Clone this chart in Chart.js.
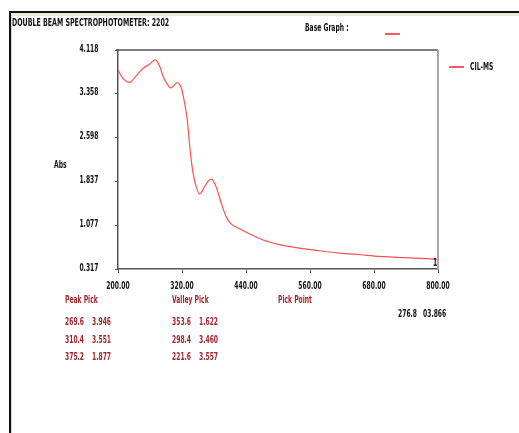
<!DOCTYPE html>
<html>
<head>
<meta charset="utf-8">
<script src="https://cdn.jsdelivr.net/npm/chart.js@4"></script>
<style>
body { margin: 0; background: #fff; }
#wrap { position: relative; width: 519px; height: 433px; overflow: hidden; font-family: 'Liberation Sans Narrow', 'DejaVu Sans Condensed', sans-serif; font-weight: bold; font-size: 10px; }
#frame { position: absolute; left: 9px; top: 11px; width: 520px; height: 430px; border-top: 2px solid #111; border-left: 2px solid #111; }
#frame div { position: absolute; left: 0; top: 0; right: 0; bottom: 0; border-top: 3px solid #ece9d8; border-left: 1px solid #d8d6cc; }
canvas { position: absolute; left: 0; top: 0; }
.t { position: absolute; line-height: 12px; white-space: nowrap; color: #111; }
.r { color: #a0282e; }
.ln { position: absolute; height: 1.5px; background: #ff5a5a; }
</style>
</head>
<body>
<div id="wrap">
<div id="frame"><div></div></div>
<canvas id="myChart" width="519" height="433"></canvas>
<div class="ln" style="left:385px;top:33px;width:15px"></div>
<div class="ln" style="left:449px;top:66px;width:15px"></div>
<div id="texts"></div>
</div>
<script>
// spectrum (nm, Abs)
let wavelengths = [200, 209, 221.6, 234, 247, 259, 269.6, 278, 284, 292, 298.4, 306, 310.4, 319, 325, 330, 334, 339, 345, 353.6, 362, 370, 375.2, 384, 394, 403, 412, 428, 446, 472, 503, 540, 578, 616, 654, 691, 728, 766, 800];
let absorbance = [3.77, 3.63, 3.557, 3.67, 3.80, 3.87, 3.946, 3.84, 3.67, 3.53, 3.460, 3.51, 3.551, 3.45, 3.19, 2.90, 2.49, 2.09, 1.80, 1.622, 1.74, 1.85, 1.877, 1.74, 1.45, 1.22, 1.10, 1.016, 0.93, 0.82, 0.74, 0.68, 0.634, 0.593, 0.564, 0.535, 0.517, 0.50, 0.49];

let xTicks = [200, 320, 440, 560, 680, 800];
let yTicks = [0.317, 1.077, 1.837, 2.598, 3.358, 4.118];

let peakPick = [['269.6', '3.946'], ['310.4', '3.551'], ['375.2', '1.877']];
let valleyPick = [['353.6', '1.622'], ['298.4', '3.460'], ['221.6', '3.557']];
let pickPoint = ['276.8', '03.866'];

//Text helper (the old bitmap font is very narrow, so squeeze it)

let texts = document.querySelector('#texts');
function addText(txt, x, y, cls, align, sx) {
	sx = sx || 0.67;
	let d = document.createElement('div');
	d.className = 't ' + (cls || '');
	d.style.top = (y - 6) + 'px';
	d.textContent = txt;
	if (align === 'right') {
		d.style.right = (519 - x) + 'px';
		d.style.transformOrigin = 'right center';
		d.style.transform = 'scaleX(' + sx + ')';
	} else if (align === 'center') {
		d.style.left = x + 'px';
		d.style.transformOrigin = 'center center';
		d.style.transform = 'translateX(-50%) scaleX(' + sx + ')';
	} else {
		d.style.left = x + 'px';
		d.style.transformOrigin = 'left center';
		d.style.transform = 'scaleX(' + sx + ')';
	}
	texts.appendChild(d);
}

addText('DOUBLE BEAM SPECTROPHOTOMETER: 2202', 12, 23, '', 'left', 0.7);
addText('Base Graph :', 305, 28);
addText('CIL-MS', 470, 67);
addText('Abs', 54, 165);
addText('1', 433, 263);

//Peak / valley tables

addText('Peak Pick', 65, 300, 'r');
addText('Valley Pick', 172, 300, 'r');
addText('Pick Point', 278, 300, 'r');
let rowY = [322, 340, 357];
for (let i = 0; i < 3; i++) {
	addText(peakPick[i][0], 65, rowY[i], 'r');
	addText(peakPick[i][1], 92, rowY[i], 'r');
	addText(valleyPick[i][0], 172, rowY[i], 'r');
	addText(valleyPick[i][1], 199, rowY[i], 'r');
}
addText(pickPoint[0], 398, 314);
addText(pickPoint[1], 423, 314);

//Build chart

let frameLines = {
	id: 'frameLines',
	afterDraw(chart) {
		let a = chart.chartArea;
		let c = chart.ctx;
		c.save();
		c.strokeStyle = '#555';
		c.lineWidth = 1.5;
		c.beginPath();
		c.moveTo(a.left - 2, a.top);
		c.lineTo(a.right, a.top);
		c.stroke();
		c.strokeStyle = '#a8a8a8';
		c.lineWidth = 2;
		c.beginPath();
		c.moveTo(a.right, a.top);
		c.lineTo(a.right, a.bottom);
		c.stroke();
		c.restore();
	}
};

// tick labels as page text, placed with the chart's own scales
let tickText = {
	id: 'tickText',
	afterRender(chart) {
		if (chart.$tickDone) return;
		chart.$tickDone = true;
		let sx = chart.scales.x;
		let sy = chart.scales.y;
		xTicks.forEach(v => addText(v.toFixed(2), sx.getPixelForValue(v), sx.top + 16.5, '', 'center'));
		yTicks.forEach(v => addText(v.toFixed(3), sy.right - 20, sy.getPixelForValue(v) - 1.5, '', 'right'));
	}
};

const ctx = document.getElementById('myChart').getContext('2d');
const myChart = new Chart(ctx, {
	type: 'line',
	data: {
		datasets: [{
			label: 'CIL-MS',
			data: wavelengths.map((w, i) => ({ x: w, y: absorbance[i] })),
			borderColor: '#ff5050',
			borderWidth: 1.2,
			pointRadius: 0,
			cubicInterpolationMode: 'monotone'
		}]
	},
	options: {
		responsive: false,
		animation: false,
		layout: { padding: { left: 58, top: 50, right: 81, bottom: 134 } },
		plugins: { legend: { display: false }, tooltip: { enabled: false } },
		scales: {
			x: {
				type: 'linear',
				min: 200,
				max: 800,
				afterBuildTicks: s => { s.ticks = xTicks.map(v => ({ value: v })); },
				afterFit: s => { s.height = 30; },
				ticks: { display: false },
				grid: { drawOnChartArea: false, tickLength: 4, color: '#555' },
				border: { color: '#555', width: 1.5 }
			},
			y: {
				min: 0.317,
				max: 4.118,
				afterBuildTicks: s => { s.ticks = yTicks.map(v => ({ value: v })); },
				afterFit: s => { s.width = 60; },
				ticks: { display: false },
				grid: { drawOnChartArea: false, tickLength: 3, color: '#555' },
				border: { color: '#555', width: 1.5 }
			}
		}
	},
	plugins: [frameLines, tickText]
});
</script>
</body>
</html>
